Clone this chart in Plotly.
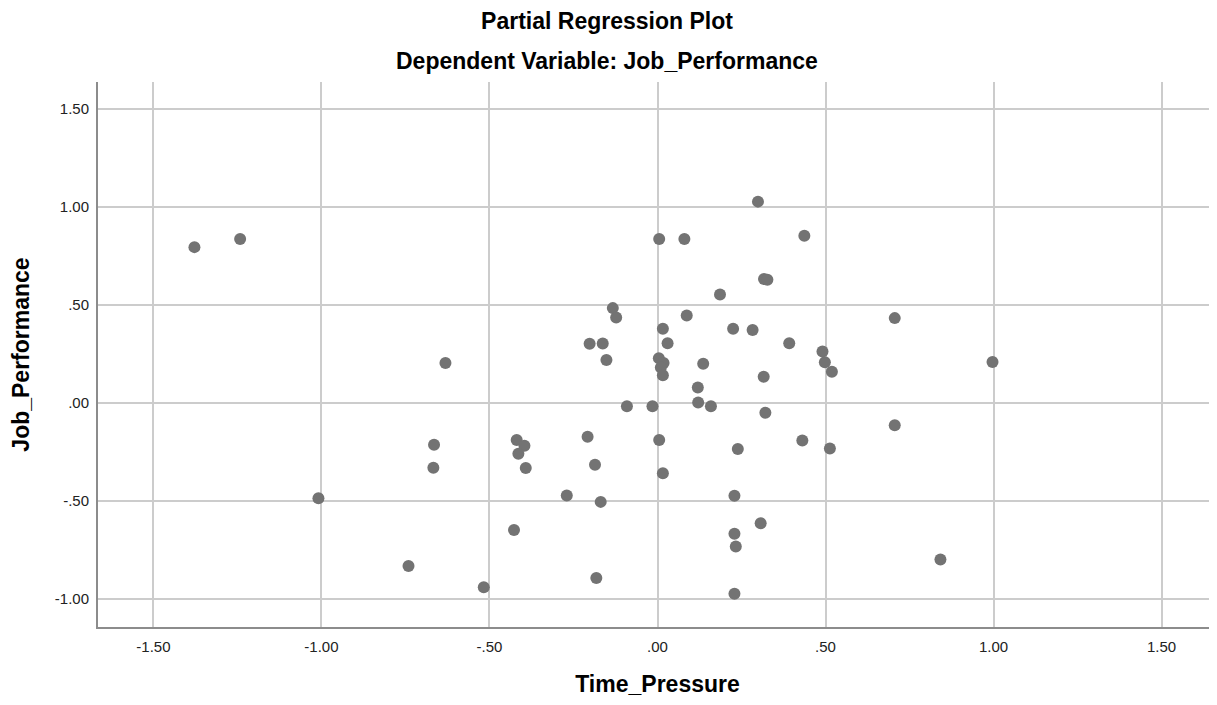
import plotly.graph_objects as go

# Partial regression data (Time_Pressure residuals vs Job_Performance residuals)
time_pressure = [
    -1.378, -1.242, -1.009, -0.741, -0.631, -0.665, -0.667, -0.517, -0.427, -0.419,
    -0.396, -0.414, -0.392, -0.270, -0.208, -0.202, -0.186, -0.182, -0.169, -0.163,
    -0.152, -0.133, -0.123, -0.091, -0.015, 0.004, 0.018, 0.010, 0.016, 0.005,
    0.005, 0.016, 0.016, 0.030, 0.080, 0.087, 0.120, 0.121, 0.136, 0.159,
    0.186, 0.225, 0.229, 0.229, 0.233, 0.229, 0.239, 0.283, 0.299, 0.307,
    0.316, 0.317, 0.327, 0.321, 0.392, 0.431, 0.437, 0.491, 0.498, 0.519,
    0.513, 0.706, 0.706, 0.842, 0.997,
]
job_performance = [
    0.794, 0.836, -0.486, -0.832, 0.203, -0.214, -0.331, -0.940, -0.648, -0.189,
    -0.219, -0.259, -0.332, -0.473, -0.173, 0.301, -0.316, -0.893, -0.505, 0.303,
    0.219, 0.483, 0.435, -0.017, -0.017, 0.228, 0.203, 0.180, 0.141, 0.835,
    -0.189, -0.359, 0.378, 0.304, 0.835, 0.445, 0.078, 0.002, 0.199, -0.017,
    0.553, 0.378, -0.474, -0.667, -0.733, -0.973, -0.235, 0.372, 1.026, -0.614,
    0.133, 0.631, 0.628, -0.051, 0.304, -0.192, 0.852, 0.262, 0.207, 0.158,
    -0.233, 0.432, -0.114, -0.799, 0.208,
]

x_tick_vals = [-1.5, -1.0, -0.5, 0.0, 0.5, 1.0, 1.5]
x_tick_text = ["-1.50", "-1.00", "-.50", ".00", ".50", "1.00", "1.50"]
y_tick_vals = [-1.0, -0.5, 0.0, 0.5, 1.0, 1.5]
y_tick_text = ["-1.00", "-.50", ".00", ".50", "1.00", "1.50"]

FONT = "Liberation Sans, Arial, sans-serif"

# page has an 8px body margin; figure sized so the plot area lands at x 98-1217, y 82-627
W, H = 1209, 697
ML, MT, MB = 90, 74, 78
PLOT_W, PLOT_H = W - ML, H - MT - MB

fig = go.Figure()
fig.add_trace(go.Scatter(
    x=time_pressure, y=job_performance, mode="markers",
    marker=dict(size=12, color="#737373", line=dict(width=0)),
    showlegend=False, hoverinfo="x+y",
))

fig.update_layout(
    width=W, height=H,
    margin=dict(l=ML, r=0, t=MT, b=MB),
    paper_bgcolor="white", plot_bgcolor="white",
    font=dict(family=FONT, color="#000000"),
    title=dict(text="<b>Partial Regression Plot</b>",
               x=(607 - 98) / PLOT_W, xref="paper", xanchor="center",
               yref="container", y=1 - 13 / H, yanchor="middle",
               font=dict(size=23, family=FONT, color="#000000")),
    annotations=[dict(text="<b>Dependent Variable: Job_Performance</b>",
                      x=(607 - 98) / PLOT_W, xref="paper", xanchor="center",
                      y=(627 - 61) / PLOT_H, yref="paper", yanchor="middle",
                      showarrow=False, font=dict(size=23, family=FONT, color="#000000"))],
)

fig.update_xaxes(
    range=[-1.665, 1.665], tickvals=x_tick_vals, ticktext=x_tick_text,
    showgrid=True, gridcolor="#cccccc", gridwidth=1.5,
    showline=True, linecolor="#8c8c8c", linewidth=2, zeroline=False,
    ticks="outside", ticklen=5, tickcolor="rgba(0,0,0,0)",
    tickfont=dict(size=15, family=FONT, color="#222222"),
    title=dict(text="<b>Time_Pressure</b>", font=dict(size=23, family=FONT, color="#000000"),
               standoff=22),
)
fig.update_yaxes(
    range=[-1.143, 1.636], tickvals=y_tick_vals, ticktext=y_tick_text,
    showgrid=True, gridcolor="#cccccc", gridwidth=1.5,
    showline=True, linecolor="#8c8c8c", linewidth=2, zeroline=False,
    ticks="outside", ticklen=4, tickcolor="rgba(0,0,0,0)",
    tickfont=dict(size=15, family=FONT, color="#222222"),
    title=dict(text="<b>Job_Performance</b>", font=dict(size=23, family=FONT, color="#000000"),
               standoff=19),
)

fig.write_html("out.html")
